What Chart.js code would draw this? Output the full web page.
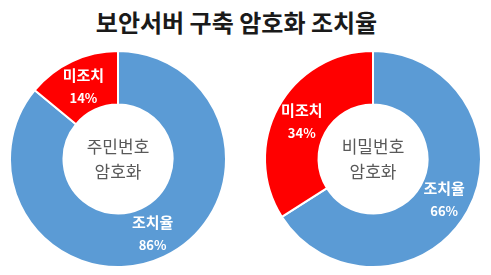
<!DOCTYPE html>
<html>
<head>
<meta charset="utf-8">
<script src="https://cdn.jsdelivr.net/npm/chart.js@4"></script>
<style>
  body { margin: 0; background: #fff; width: 491px; height: 275px; position: relative; overflow: hidden; }
  #title { position: absolute; left: 0; width: 473px; top: 4px; text-align: center;
           font-family: "Noto Sans CJK KR", sans-serif; font-weight: bold; font-size: 24px; color: #1a1a1a; }
  canvas { position: absolute; }
  #chart-one { left: 8px; top: 49px; }
  #chart-two { left: 263px; top: 49px; }
</style>
</head>
<body>
<div id="title">보안서버 구축 암호화 조치율</div>
<canvas id="chart-one" width="220" height="220"></canvas>
<canvas id="chart-two" width="220" height="220"></canvas>
<script>
'use strict';

// slice names, same order for both rings (blue first, clockwise from top)
let sliceNames = ['조치율', '미조치'];
let sliceColors = ['#5b9bd5', '#ff0000'];

// values (%)
let residentValues = [86, 14];
let passwordValues = [66, 34];

// text in the hole
let residentCenter = ['주민번호', '암호화'];
let passwordCenter = ['비밀번호', '암호화'];

let fontName = '"Noto Sans CJK KR", sans-serif';

// draws name + percent in each slice and the two lines in the middle
const donutText = {
  id: 'donutText',
  afterDraw(chart, args, opts) {
    let ctx = chart.ctx;
    let meta = chart.getDatasetMeta(0);
    let values = chart.data.datasets[0].data;
    ctx.save();
    ctx.textAlign = 'center';
    ctx.textBaseline = 'middle';
    ctx.fillStyle = '#ffffff';
    for (let i = 0; i < meta.data.length; i++) {
      let pt = meta.data[i].getCenterPoint();
      ctx.font = 'bold 15px ' + fontName;
      ctx.fillText(chart.data.labels[i], pt.x, pt.y - 10);
      ctx.font = 'bold 13px ' + fontName;
      ctx.fillText(values[i] + '%', pt.x, pt.y + 13);
    }
    let arc = meta.data[0];
    ctx.fillStyle = '#595959';
    ctx.font = '17px ' + fontName;
    ctx.fillText(opts.lines[0], arc.x, arc.y - 12);
    ctx.fillText(opts.lines[1], arc.x, arc.y + 13);
    ctx.restore();
  }
};

function makeDonut(canvasId, values, centerLines) {
  return new Chart(document.getElementById(canvasId), {
    type: 'doughnut',
    data: {
      labels: sliceNames,
      datasets: [{
        data: values,
        backgroundColor: sliceColors,
        borderColor: '#ffffff',
        borderWidth: 2
      }]
    },
    options: {
      responsive: false,
      animation: false,
      radius: 108,
      cutout: 55,
      plugins: {
        legend: { display: false },
        tooltip: { enabled: false },
        donutText: { lines: centerLines }
      }
    },
    plugins: [donutText]
  });
}

makeDonut('chart-one', residentValues, residentCenter);
makeDonut('chart-two', passwordValues, passwordCenter);
</script>
</body>
</html>
